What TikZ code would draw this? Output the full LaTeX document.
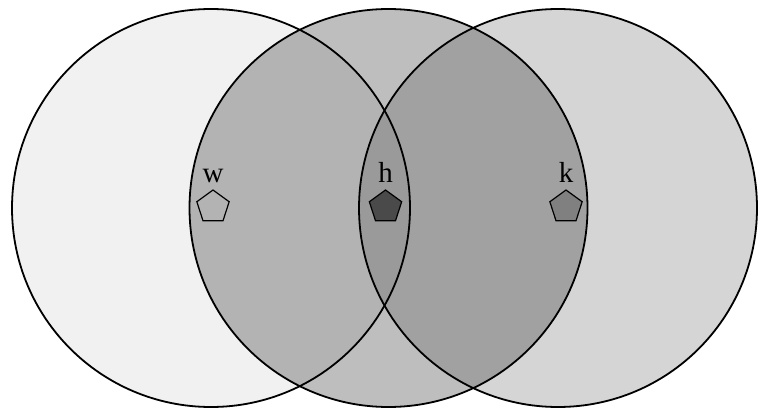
\documentclass[tikz,border=0pt]{standalone}
\usepackage{fontspec}
\setmainfont{Liberation Serif}
\usetikzlibrary{shapes.geometric,positioning}
\definecolor{leftgray}{RGB}{241,241,241}
\definecolor{midgray}{RGB}{190,190,190}
\definecolor{rightgray}{RGB}{213,213,213}
\definecolor{lmgray}{RGB}{179,179,179}
\definecolor{mrgray}{RGB}{161,161,161}
\definecolor{allgray}{RGB}{154,154,154}
\definecolor{hgray}{RGB}{74,74,74}
\definecolor{kgray}{RGB}{128,128,128}
\def\rad{199pt}

\begin{document}
\begin{tikzpicture}[x=1pt,y=1pt,
  ring/.style={draw=black, line width=1.8pt},
  penta/.style={regular polygon, regular polygon sides=5, draw=black, line width=1.2pt, minimum size=34pt, inner sep=0pt},
  tag/.style={font=\fontsize{29}{30}\selectfont, inner sep=0pt}]

\useasboundingbox (0,0) rectangle (762,410);
\fill[white] (0,0) rectangle (762,410);

\coordinate (cl) at (211,202);
\coordinate (cm) at (388.5,202);
\coordinate (cr) at (558,202);

% circle fills
\fill[leftgray] (cl) circle (\rad);
\fill[midgray] (cm) circle (\rad);
\fill[rightgray] (cr) circle (\rad);
\begin{scope}
  \clip (cl) circle (\rad);
  \fill[lmgray] (cm) circle (\rad);
\end{scope}
\begin{scope}
  \clip (cr) circle (\rad);
  \fill[mrgray] (cm) circle (\rad);
  \clip (cl) circle (\rad);
  \fill[allgray] (cm) circle (\rad);
\end{scope}

% outlines
\draw[ring] (cl) circle (\rad);
\draw[ring] (cm) circle (\rad);
\draw[ring] (cr) circle (\rad);

% markers
\node[penta] (pw) at (213,203) {};
\node[penta, fill=hgray] (ph) at (385.5,203) {};
\node[penta, fill=kgray] (pk) at (566,203) {};

\node[tag, above=7pt of pw.north, anchor=base] (lw) {w};
\node[tag, above=7pt of ph.north, anchor=base] (lh) {h};
\node[tag, above=7pt of pk.north, anchor=base] (lk) {k};

\end{tikzpicture}
\end{document}
